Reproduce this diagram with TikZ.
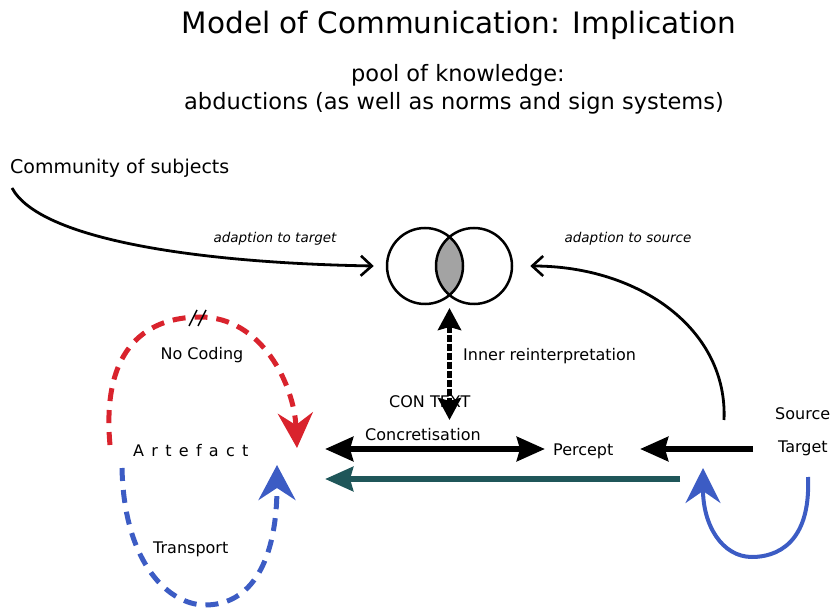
\documentclass[tikz,border=0pt]{standalone}
\usepackage{fontspec}
\setmainfont{DejaVu Sans}
\usepackage{tikz}
\usetikzlibrary{arrows.meta}
\definecolor{codered}{HTML}{D9232D}
\definecolor{codeblue}{HTML}{3C5CC4}
\definecolor{pathteal}{HTML}{1F5659}
\definecolor{lensgray}{HTML}{A3A3A3}
\newcommand{\lgap}{\hspace{7.3pt}}

\begin{document}
\begin{tikzpicture}[x=1pt, y=-1pt,
  lbl/.style={inner sep=0pt, anchor=base west, font=\fontsize{16}{19}\selectfont},
  note/.style={inner sep=0pt, anchor=base, font=\fontsize{13.5}{16}\selectfont\itshape},
  head/.style={inner sep=0pt, anchor=base},
  ring/.style={circle, draw, line width=2.5pt, minimum size=76pt, inner sep=0pt},
  thinarr/.style={line width=2.8pt, -{Straight Barb[length=11pt, width=20pt, line width=2.6pt]}},
  heavy/.style={line width=6pt, -{Stealth[length=28pt, width=24pt, inset=3pt]}},
  heavyboth/.style={line width=6pt, {Stealth[length=28pt, width=24pt, inset=3pt]}-{Stealth[length=28pt, width=24pt, inset=3pt]}},
  loopred/.style={codered, line width=5pt, dash pattern=on 13pt off 9pt,
                  -{Stealth[length=35pt, width=35pt, inset=12pt]}},
  loopblue/.style={codeblue, line width=5pt, dash pattern=on 13pt off 9pt,
                   -{Stealth[length=35pt, width=37pt, inset=12pt]}}]
  \useasboundingbox (0,0) rectangle (838,609);

  % headings
  \node[head, font=\fontsize{29.5}{34}\selectfont] (title) at (459,34) {Model of Communication: Implication};
  \node[head, font=\fontsize{22.5}{27}\selectfont] (pool) at (458,82) {pool of knowledge:};
  \node[head, font=\fontsize{22.5}{27}\selectfont] (abduct) at (454,110) {abductions (as well as norms and sign systems)};

  % the two subjects and their shared knowledge
  \begin{scope}
    \clip (425,266) circle (38pt);
    \fill[lensgray] (474,266) circle (38pt);
  \end{scope}
  \node[ring] (lcirc) at (425,266) {};
  \node[ring] (rcirc) at (474,266) {};

  \node[lbl, font=\fontsize{19}{22}\selectfont] (community) at (10,174) {Community of subjects};
  \node[note] (adtarget) at (275,243) {adaption to target};
  \node[note] (adsource) at (628,243) {adaption to source};
  \node[lbl] (inner) at (463,361) {Inner reinterpretation};
  \node[lbl] (context) at (389,408) {CON TEXT};
  \node[lbl] (concret) at (365,440) {Concretisation};
  \node[lbl] (percept) at (553,455) {Percept};
  \node[lbl] (source) at (775,420) {Source};
  \node[lbl] (target) at (778,452) {Target};
  \node[lbl, anchor=base] (nocoding) at (202,360) {No Coding};
  \node[lbl] (artefact) at (133,456) {A\lgap r\lgap t\lgap e\lgap f\lgap a\lgap c\lgap t};
  \node[lbl] (transport) at (153,553) {Transport};

  % free ends
  \coordinate (comstart) at (12,188);
  \coordinate (srcstart) at (724,420);
  \coordinate (lensbot) at (449.5,308);
  \coordinate (ctxend) at (449.5,420);
  \coordinate (artR) at (325,449);
  \coordinate (percL) at (545,449);
  \coordinate (percR) at (640,449);
  \coordinate (srcL) at (753,449);
  \coordinate (tgtL) at (680,479);
  \coordinate (artlow) at (325,479);
  \coordinate (tgtend) at (808,477);
  \coordinate (tgtin) at (703,468);
  \coordinate (redstart) at (110,445);
  \coordinate (redend) at (297,448);
  \coordinate (bluestart) at (122,468);
  \coordinate (blueend) at (277,465);

  % adaption
  \draw[thinarr] (comstart) .. controls (40,240) and (200,263) .. ([xshift=-12pt]lcirc.west);
  \draw[thinarr] (srcstart) .. controls (728,330) and (640,266) .. ([xshift=17pt]rcirc.east);

  % context
  \draw[line width=5pt, dash pattern=on 7pt off 2pt,
        {Stealth[length=22pt, width=23pt, inset=3pt]}-{Stealth[length=22pt, width=23pt, inset=3pt]}]
    (lensbot) -- (ctxend);

  % concretisation and perception
  \draw[heavyboth] (artR) -- (percL);
  \draw[heavy] (srcL) -- (percR);
  \draw[heavy, pathteal] (tgtL) -- (artlow);

  % coding loops
  \draw[loopred] (redstart) .. controls (100,335) and (160,317) .. (200,317)
    .. controls (262,317) and (294,385) .. (redend);
  \draw[line width=1.5pt] (189,326) -- (197,310) (198,326) -- (206,310);
  \draw[loopblue] (bluestart) .. controls (124,565) and (170,605) .. (205,605)
    .. controls (252,605) and (277,560) .. (blueend);
  \draw[codeblue, line width=4pt, -{Stealth[length=35pt, width=35pt, inset=12pt]}]
    (tgtend) .. controls (811,545) and (775,557) .. (752,557)
    .. controls (722,557) and (703,525) .. (tgtin);
\end{tikzpicture}
\end{document}
